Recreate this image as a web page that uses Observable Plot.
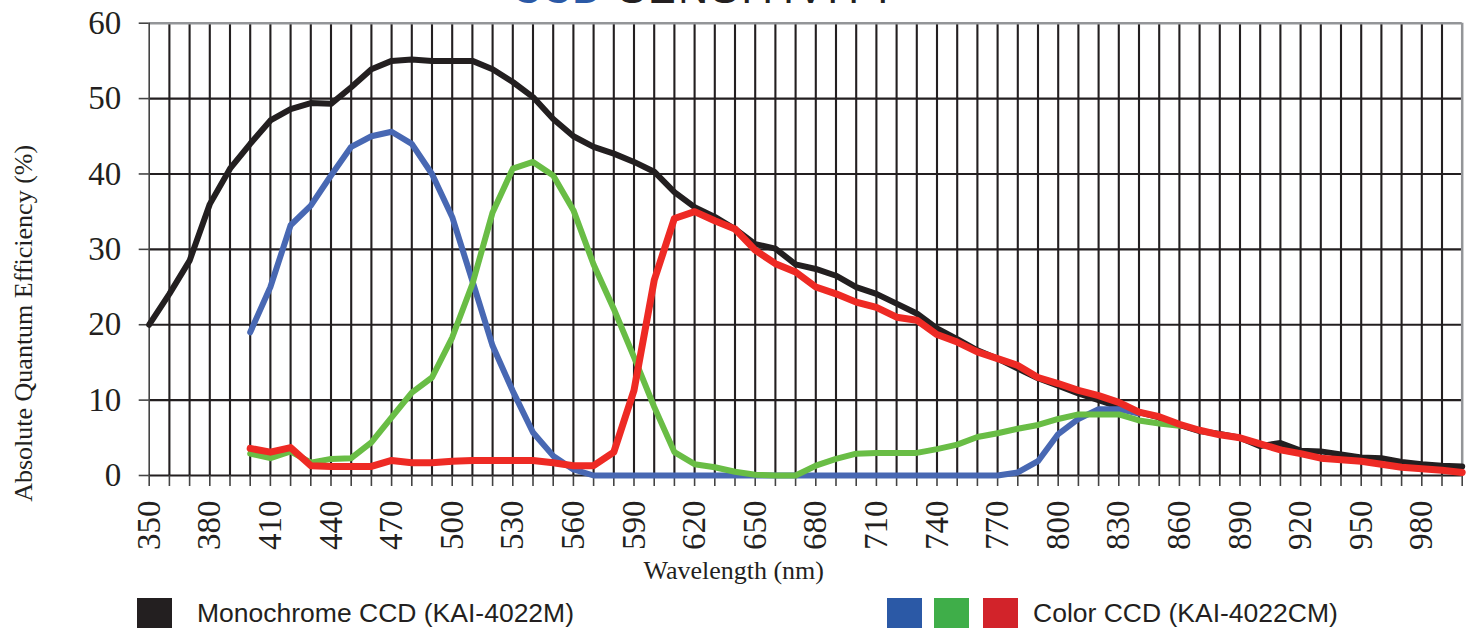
<!DOCTYPE html>
<html>
<head>
<meta charset="utf-8">
<script src="https://cdn.jsdelivr.net/npm/d3@7"></script>
<script src="https://cdn.jsdelivr.net/npm/@observablehq/plot@0.6"></script>
<style>
  body { margin: 0; background: #fff; }
  #wrap { position: relative; width: 1468px; height: 629px; overflow: hidden; background: #fff; }
  #title { position: absolute; left: 512px; top: -32px; font-family: "Liberation Sans", sans-serif; font-size: 41.5px; line-height: 1; white-space: nowrap; color: #231f20; }
  #title .ccd { color: #2b59a6; margin-right: 16px; }
  #title .sens { letter-spacing: 2.5px; }
  #chart { position: absolute; left: 0; top: 0; }
  .sq { position: absolute; width: 35px; height: 30px; top: 598px; }
  .lt { position: absolute; top: 598px; height: 30px; line-height: 30px; font-family: "Liberation Sans", Arial, sans-serif; font-size: 26.5px; color: #231f20; white-space: nowrap; }
</style>
</head>
<body>
<div id="wrap">
  <div id="chart"></div>
  <div id="title"><span class="ccd">CCD</span><span class="sens">SENSITIVITY</span></div>
  <div class="sq" style="left:137px;background:#231f20"></div>
  <div class="lt" style="left:197px">Monochrome CCD (KAI-4022M)</div>
  <div class="sq" style="left:887px;background:#2b59a6"></div>
  <div class="sq" style="left:934px;background:#3fae49"></div>
  <div class="sq" style="left:983px;background:#d2232a"></div>
  <div class="lt" style="left:1033px">Color CCD (KAI-4022CM)</div>
</div>
<script>
// Wavelengths (nm), one per grid column
const wavelengths = [350,360,370,380,390,400,410,420,430,440,450,460,470,480,490,500,510,520,530,540,550,560,570,580,590,600,610,620,630,640,650,660,670,680,690,700,710,720,730,740,750,760,770,780,790,800,810,820,830,840,850,860,870,880,890,900,910,920,930,940,950,960,970,980,990,1000];
// Labeled x ticks
const xTickLabels = [350,380,410,440,470,500,530,560,590,620,650,680,710,740,770,800,830,860,890,920,950,980];
// Y ticks / gridlines
const yTicks = [0,10,20,30,40,50,60];
const yGrid = [10,20,30,40,50];

// Monochrome CCD (KAI-4022M), 350..1000 nm
const mono = [20,24.1,28.5,36,40.7,44,47.1,48.6,49.4,49.3,51.5,53.9,55,55.2,55,55,55,53.9,52.2,50.2,47.3,45,43.6,42.7,41.6,40.3,37.6,35.6,34.3,32.7,30.7,30.1,28,27.4,26.5,25,24.1,22.8,21.5,19.5,18.1,16.6,15.5,14.2,12.9,11.9,10.9,10,9.1,8.4,7.7,6.7,5.9,5.5,5.0,3.9,4.3,3.3,3.2,2.8,2.4,2.3,1.8,1.5,1.3,1.2];
// Color CCD (KAI-4022CM) channels, starting at 400 nm
const colorWavelengths = [400,410,420,430,440,450,460,470,480,490,500,510,520,530,540,550,560,570,580,590,600,610,620,630,640,650,660,670,680,690,700,710,720,730,740,750,760,770,780,790,800,810,820,830,840,850,860,870,880,890,900,910,920,930,940,950,960,970,980,990,1000];
const blue = [19,25,33.2,35.8,39.8,43.6,45,45.6,44,40,34.3,25.8,17.2,11.2,5.7,2.6,0.8,0,0,0,0,0,0,0,0,0,0,0,0,0,0,0,0,0,0,0,0,0,0.4,1.9,5.5,7.5,8.8,8.8,8.2];
const green = [2.9,2.3,3.2,1.7,2.2,2.3,4.4,7.7,11,13,18.3,25.4,34.9,40.7,41.6,39.8,35.2,28,22.1,15.7,9.1,3.1,1.5,1.1,0.5,0.1,0,0,1.3,2.2,2.9,3.0,3.0,3.0,3.5,4.1,5.1,5.6,6.2,6.7,7.5,8.1,8.1,8.1,7.3,6.9,6.6];
const red = [3.6,3.1,3.7,1.3,1.2,1.2,1.2,2.0,1.7,1.7,1.9,2.0,2.0,2.0,2.0,1.7,1.3,1.3,3.1,11.3,25.9,34.1,35,33.8,32.7,29.9,28.1,27,25,24.1,23,22.3,21,20.6,18.7,17.7,16.4,15.5,14.6,13,12.2,11.3,10.6,9.7,8.4,7.8,6.8,6.0,5.4,5.0,4.2,3.4,2.9,2.3,2.1,1.9,1.5,1.1,0.9,0.7,0.4];

const series = (xs, ys) => ys.map((v, i) => ({w: xs[i], v}));
const monoData = series(wavelengths, mono);
const blueData = series(colorWavelengths, blue);
const greenData = series(colorWavelengths, green);
const redData = series(colorWavelengths, red);

const ink = "#231f20";
const frameGrey = "#939598";

const chart = Plot.plot({
  width: 1468,
  height: 590,
  marginLeft: 148.7,
  marginRight: 6.3,
  marginTop: 22.7,
  marginBottom: 115,
  style: {fontFamily: "'Liberation Serif', 'Times New Roman', serif", fontSize: "33px", color: ink, background: "#fff"},
  x: {domain: [350, 1000], label: null},
  y: {domain: [0, 60], label: null},
  marks: [
    Plot.ruleX(wavelengths.filter(w => w > 350 && w < 1000), {stroke: ink, strokeWidth: 2.1}),
    Plot.ruleY(yGrid, {stroke: ink, strokeWidth: 2.1}),
    Plot.ruleY([60], {stroke: frameGrey, strokeWidth: 2.5}),
    Plot.ruleX([1000], {stroke: frameGrey, strokeWidth: 2.5}),
    Plot.ruleX([350], {stroke: "#444", strokeWidth: 1.6}),
    Plot.ruleY([0], {stroke: ink, strokeWidth: 2.2}),
    Plot.axisX({
      ticks: wavelengths,
      tickSize: 11,
      tickPadding: 14,
      tickRotate: -90,
      tickFormat: d => xTickLabels.includes(d) ? String(d) : "",
      stroke: "#444",
      strokeWidth: 1.6,
      fill: ink
    }),
    Plot.axisY({
      ticks: yTicks,
      tickSize: 10,
      tickPadding: 18,
      stroke: "#444",
      strokeWidth: 1.6,
      fill: ink
    }),
    Plot.line(monoData, {x: "w", y: "v", stroke: ink, strokeWidth: 6, strokeLinejoin: "round"}),
    Plot.line(blueData, {x: "w", y: "v", stroke: "#4868b3", strokeWidth: 6, strokeLinejoin: "round"}),
    Plot.line(greenData, {x: "w", y: "v", stroke: "#69bd45", strokeWidth: 6, strokeLinejoin: "round"}),
    Plot.line(redData, {x: "w", y: "v", stroke: "#ee2a24", strokeWidth: 7, strokeLinejoin: "round"}),
    Plot.text(["Absolute Quantum Efficiency (%)"], {frameAnchor: "left", dx: -126, dy: 74, rotate: -90, fontSize: 26, fill: ink, textAnchor: "middle"}),
    Plot.text(["Wavelength (nm)"], {frameAnchor: "bottom", dx: -72, dy: 103, fontSize: 26, fill: ink, textAnchor: "middle"})
  ]
});
document.getElementById("chart").appendChild(chart);
</script>
</body>
</html>
